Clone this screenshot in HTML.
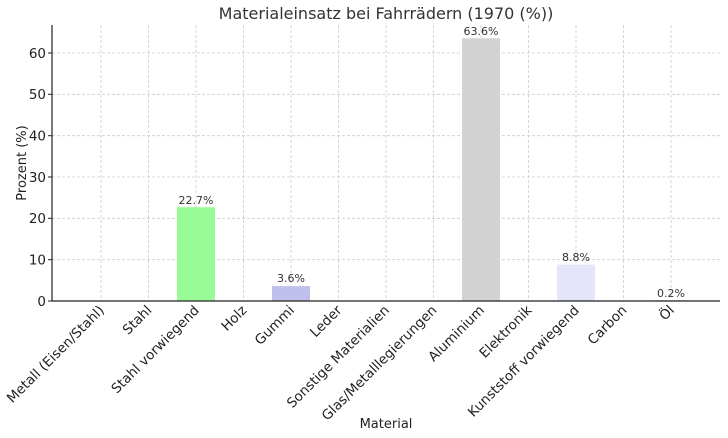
<!DOCTYPE html>
<html><head><meta charset="utf-8"><style>body{margin:0;background:#fff}svg{display:block}</style></head><body>
<svg width="728" height="438" xmlns="http://www.w3.org/2000/svg" font-family="DejaVu Sans, Liberation Sans, sans-serif">
<rect width="728" height="438" fill="#fff"/>
<g stroke="#ccc" stroke-width="0.8" stroke-dasharray="3,2">
<line x1="101" y1="25" x2="101" y2="301"/><line x1="148.5" y1="25" x2="148.5" y2="301"/><line x1="196" y1="25" x2="196" y2="301"/><line x1="243.5" y1="25" x2="243.5" y2="301"/><line x1="291" y1="25" x2="291" y2="301"/><line x1="338.5" y1="25" x2="338.5" y2="301"/><line x1="386" y1="25" x2="386" y2="301"/><line x1="433.5" y1="25" x2="433.5" y2="301"/><line x1="481" y1="25" x2="481" y2="301"/><line x1="528.5" y1="25" x2="528.5" y2="301"/><line x1="576" y1="25" x2="576" y2="301"/><line x1="623.5" y1="25" x2="623.5" y2="301"/><line x1="671" y1="25" x2="671" y2="301"/>
<line x1="52" y1="259.7" x2="720" y2="259.7"/><line x1="52" y1="218.3" x2="720" y2="218.3"/><line x1="52" y1="177" x2="720" y2="177"/><line x1="52" y1="135.7" x2="720" y2="135.7"/><line x1="52" y1="94.3" x2="720" y2="94.3"/><line x1="52" y1="53" x2="720" y2="53"/>
</g>
<rect x="177" y="207.2" width="38" height="93.8" fill="#98fb98"/>
<rect x="272" y="286.1" width="38" height="14.9" fill="#c0c0ec"/>
<rect x="462" y="38.2" width="38" height="262.8" fill="#d3d3d3"/>
<rect x="557" y="264.6" width="38" height="36.4" fill="#e4e4fa"/>
<rect x="652" y="300.2" width="38" height="0.8" fill="#f5deb3"/>
<g font-size="11" fill="#333" text-anchor="middle">
<text x="196" y="204">22.7%</text><text x="291" y="282">3.6%</text><text x="481" y="35">63.6%</text><text x="576" y="261">8.8%</text><text x="671" y="297">0.2%</text>
</g>
<g stroke="#222" stroke-width="1.2" fill="none"><line x1="52" y1="25" x2="52" y2="301"/><line x1="52" y1="301" x2="720" y2="301"/></g>
<g stroke="#222"><line x1="48" y1="301" x2="52" y2="301"/><line x1="48" y1="259.7" x2="52" y2="259.7"/><line x1="48" y1="218.3" x2="52" y2="218.3"/><line x1="48" y1="177" x2="52" y2="177"/><line x1="48" y1="135.7" x2="52" y2="135.7"/><line x1="48" y1="94.3" x2="52" y2="94.3"/><line x1="48" y1="53" x2="52" y2="53"/></g>
<g font-size="13.5" fill="#222" text-anchor="end">
<text x="46" y="306">0</text><text x="46" y="264.5">10</text><text x="46" y="223">20</text><text x="46" y="182">30</text><text x="46" y="140.5">40</text><text x="46" y="99">50</text><text x="46" y="58">60</text>
</g>
<g font-size="13.5" fill="#222" text-anchor="end">
<text transform="translate(105,311) rotate(-45)">Metall (Eisen/Stahl)</text>
<text transform="translate(152.5,311) rotate(-45)">Stahl</text>
<text transform="translate(200,311) rotate(-45)">Stahl vorwiegend</text>
<text transform="translate(247.5,311) rotate(-45)">Holz</text>
<text transform="translate(295,311) rotate(-45)">Gummi</text>
<text transform="translate(342.5,311) rotate(-45)">Leder</text>
<text transform="translate(390,311) rotate(-45)">Sonstige Materialien</text>
<text transform="translate(437.5,311) rotate(-45)">Glas/Metalllegierungen</text>
<text transform="translate(485,311) rotate(-45)">Aluminium</text>
<text transform="translate(532.5,311) rotate(-45)">Elektronik</text>
<text transform="translate(580,311) rotate(-45)">Kunststoff vorwiegend</text>
<text transform="translate(627.5,311) rotate(-45)">Carbon</text>
<text transform="translate(675,311) rotate(-45)">Öl</text>
</g>
<text x="386" y="428" font-size="13" fill="#222" text-anchor="middle">Material</text>
<text transform="translate(26,163) rotate(-90)" font-size="13" fill="#222" text-anchor="middle">Prozent (%)</text>
<text x="386" y="19" font-size="16" fill="#333" text-anchor="middle">Materialeinsatz bei Fahrrädern (1970 (%))</text>
</svg>
</body></html>
